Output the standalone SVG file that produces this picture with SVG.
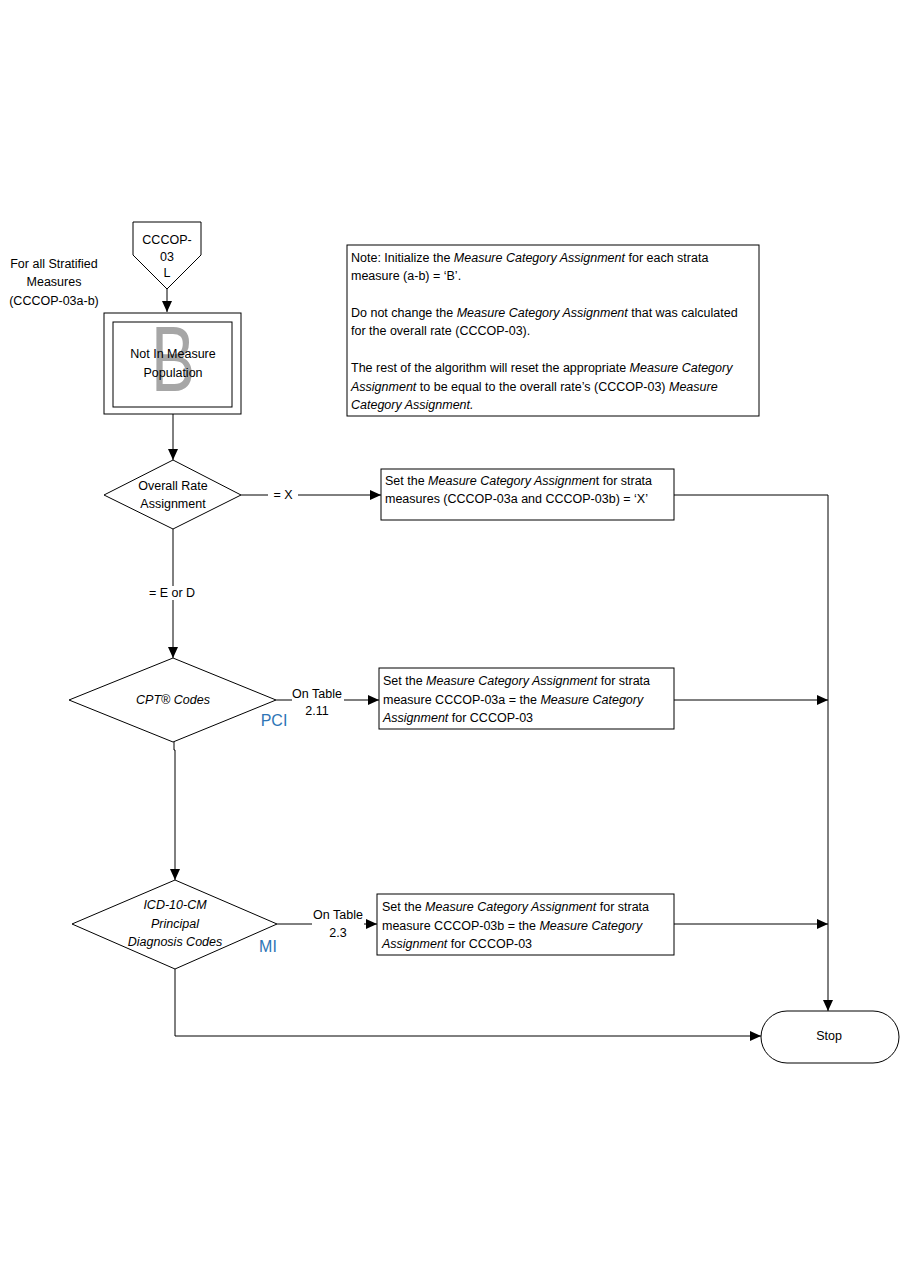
<svg xmlns="http://www.w3.org/2000/svg" width="900" height="1286" viewBox="0 0 900 1286">
<defs>
<marker id="arr" markerWidth="12" markerHeight="12" refX="11" refY="5" orient="auto" markerUnits="userSpaceOnUse" viewBox="0 0 12 10">
<path d="M0,0 L11,5 L0,10 Z" fill="#000"/>
</marker>
<style>
.s{fill:#fff;stroke:#000;stroke-width:1}
.t{font-family:"Liberation Sans",Arial,sans-serif;font-size:12.5px;fill:#000}
.m{text-anchor:middle}
.i{font-style:italic}
.c{fill:none;stroke:#000;stroke-width:1}
.b{font-family:"Liberation Sans",Arial,sans-serif;font-size:16px;fill:#2e75b6;text-anchor:middle}
</style>
</defs>
<rect width="900" height="1286" fill="#fff"/>

<g id="connectors">
<path class="c" d="M167,289 L167,312" marker-end="url(#arr)"/>
<path class="c" d="M173,414 L173,460" marker-end="url(#arr)"/>
<path class="c" d="M241,495 L381,495" marker-end="url(#arr)"/>
<path class="c" d="M173,529 L173,658" marker-end="url(#arr)"/>
<path class="c" d="M674,495 L828,495 L828,1011" marker-end="url(#arr)"/>
<path class="c" d="M276,700 L379,700" marker-end="url(#arr)"/>
<path class="c" d="M674,700 L828,700" marker-end="url(#arr)"/>
<path class="c" d="M174,742 L174,750 L175,750 L175,880" marker-end="url(#arr)"/>
<path class="c" d="M277,924 L377,924" marker-end="url(#arr)"/>
<path class="c" d="M674,924 L828,924" marker-end="url(#arr)"/>
<path class="c" d="M175,969 L175,1036 L761,1036" marker-end="url(#arr)"/>
<rect x="268" y="488" width="30" height="14" fill="#fff"/>
<text class="t m" x="283" y="499">= X</text>
<rect x="143" y="586" width="60" height="14" fill="#fff"/>
<text class="t m" x="172" y="597">= E or D</text>
<rect x="292" y="688" width="52" height="28" fill="#fff"/>
<text class="t m" x="317" y="698">On Table</text>
<text class="t m" x="317" y="715">2.11</text>
<rect x="312" y="909" width="52" height="28" fill="#fff"/>
<text class="t m" x="338" y="919">On Table</text>
<text class="t m" x="338" y="937">2.3</text>
</g>

<g id="label-stratified">
<text class="t m" x="54" y="268">For all Stratified</text>
<text class="t m" x="54" y="286">Measures</text>
<text class="t m" x="54" y="305">(CCCOP-03a-b)</text>
</g>

<g id="offpage">
<polygon class="s" points="133,222 201,222 201,255 167,289 133,255"/>
<text class="t m" x="167" y="244">CCCOP-</text>
<text class="t m" x="167" y="261">03</text>
<text class="t m" x="167" y="277">L</text>
</g>

<g id="not-in-pop">
<rect class="s" x="104" y="313" width="137" height="101"/>
<rect class="s" x="113" y="322" width="119" height="85"/>
<text x="173" y="391" text-anchor="middle" transform="translate(173 0) scale(0.72 1) translate(-173 0)" style="font-family:'Liberation Sans',Arial,sans-serif;font-size:92px;fill:#a6a6a6">B</text>
<text class="t m" x="173" y="358">Not In Measure</text>
<text class="t m" x="173" y="377">Population</text>
</g>

<g id="note">
<rect class="s" x="347" y="245" width="412" height="171"/>
<text class="t" x="351" y="262">Note: Initialize the <tspan class="i">Measure Category Assignment</tspan> for each strata</text>
<text class="t" x="351" y="280">measure (a-b) = ‘B’.</text>
<text class="t" x="351" y="317">Do not change the <tspan class="i">Measure Category Assignment</tspan> that was calculated</text>
<text class="t" x="351" y="335">for the overall rate (CCCOP-03).</text>
<text class="t" x="351" y="372">The rest of the algorithm will reset the appropriate <tspan class="i">Measure Category</tspan></text>
<text class="t" x="351" y="391"><tspan class="i">Assignment</tspan> to be equal to the overall rate’s (CCCOP-03) <tspan class="i">Measure</tspan></text>
<text class="t" x="351" y="409"><tspan class="i">Category Assignment.</tspan></text>
</g>

<g id="overall-rate">
<polygon class="s" points="173,460 241,495 173,529 104,495"/>
<text class="t m" x="173" y="490">Overall Rate</text>
<text class="t m" x="173" y="508">Assignment</text>
</g>

<g id="set-x">
<rect class="s" x="381" y="469" width="293" height="51"/>
<text class="t" x="385" y="485">Set the <tspan class="i">Measure Category Assignmen</tspan>t for strata</text>
<text class="t" x="385" y="503">measures (CCCOP-03a and CCCOP-03b) = ‘X’</text>
</g>

<g id="cpt">
<polygon class="s" points="173,658 276,700 173,742 69,700"/>
<text class="t m i" x="173" y="704">CPT® Codes</text>
<text class="b" x="274" y="726">PCI</text>
</g>

<g id="set-a">
<rect class="s" x="379" y="668" width="295" height="61"/>
<text class="t" x="383" y="685">Set the <tspan class="i">Measure Category Assignment</tspan> for strata</text>
<text class="t" x="383" y="704">measure CCCOP-03a = the <tspan class="i">Measure Category</tspan></text>
<text class="t" x="383" y="722"><tspan class="i">Assignment</tspan> for CCCOP-03</text>
</g>

<g id="icd">
<polygon class="s" points="175,880 277,924 175,969 72,924"/>
<text class="t m i" x="175" y="909">ICD-10-CM</text>
<text class="t m i" x="175" y="928">Principal</text>
<text class="t m i" x="175" y="946">Diagnosis Codes</text>
<text class="b" x="268" y="952">MI</text>
</g>

<g id="set-b">
<rect class="s" x="377" y="894" width="297" height="61"/>
<text class="t" x="382" y="911">Set the <tspan class="i">Measure Category Assignment</tspan> for strata</text>
<text class="t" x="382" y="930">measure CCCOP-03b = the <tspan class="i">Measure Category</tspan></text>
<text class="t" x="382" y="948"><tspan class="i">Assignment</tspan> for CCCOP-03</text>
</g>

<g id="stop">
<rect class="s" x="761" y="1011" width="138" height="52" rx="26" ry="26"/>
<text class="t m" x="829" y="1040">Stop</text>
</g>
</svg>
